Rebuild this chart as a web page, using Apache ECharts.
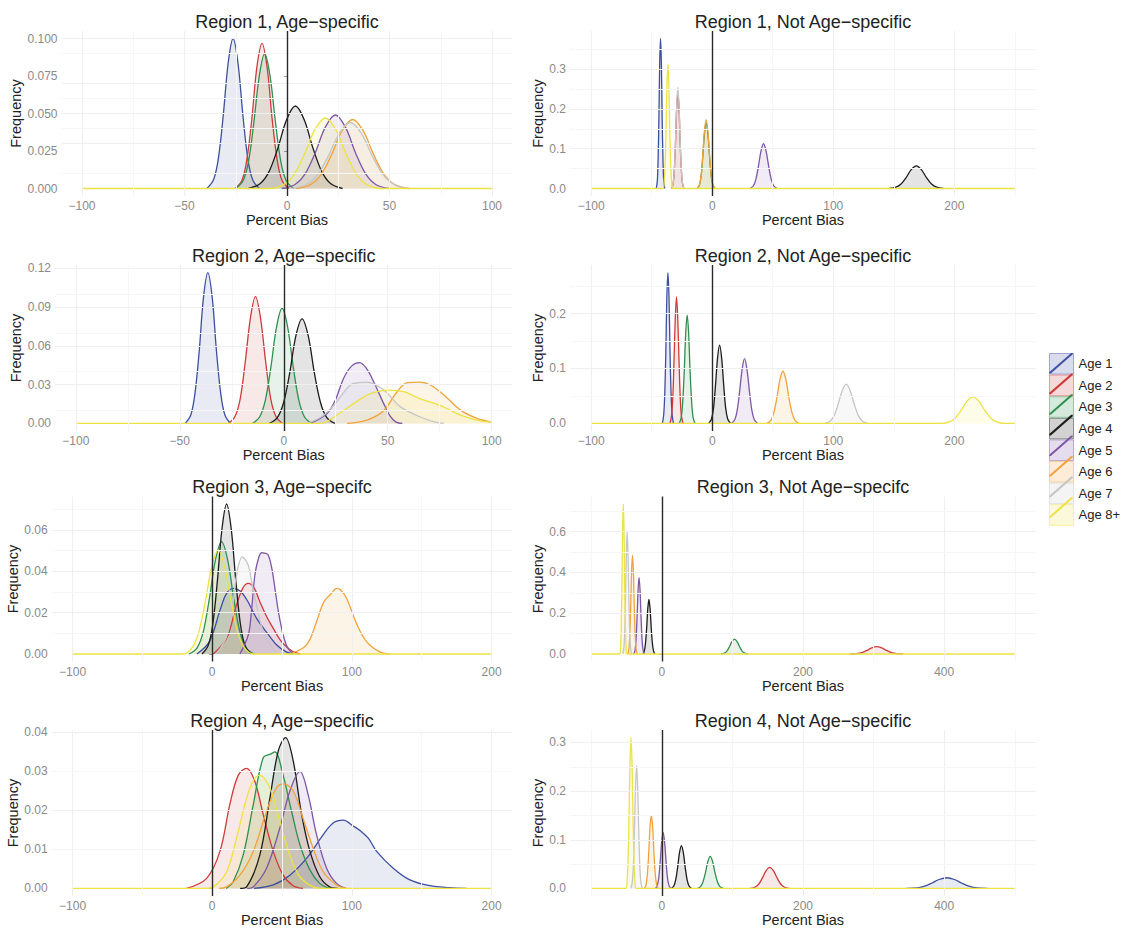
<!DOCTYPE html>
<html>
<head>
<meta charset="utf-8">
<script src="https://cdn.jsdelivr.net/npm/echarts@6/dist/echarts.min.js"></script>
<style>html,body{margin:0;padding:0;background:#fff}#c{width:1125px;height:928px}</style>
</head>
<body>
<div id="c"></div>
<script>
// ---------------- data ----------------
const ages = ['Age 1', 'Age 2', 'Age 3', 'Age 4', 'Age 5', 'Age 6', 'Age 7', 'Age 8+'];
const ageColors = ['#3d4f9f', '#cf3a3a', '#2f8f4e', '#1c1c1c', '#7d56a6', '#f2a23c', '#c6c6c6', '#ece244'];

const panelTitles = [
  'Region 1, Age\u2212specific', 'Region 1, Not Age\u2212specific',
  'Region 2, Age\u2212specific', 'Region 2, Not Age\u2212specific',
  'Region 3, Age\u2212specifc', 'Region 3, Not Age\u2212specifc',
  'Region 4, Age\u2212specific', 'Region 4, Not Age\u2212specific'
];
const xRanges = [[-100, 100], [-100, 250], [-100, 100], [-100, 250], [-100, 200], [-100, 500], [-100, 200], [-100, 500]];
const xTickValues = [
  [-100, -50, 0, 50, 100], [-100, 0, 100, 200],
  [-100, -50, 0, 50, 100], [-100, 0, 100, 200],
  [-100, 0, 100, 200], [0, 200, 400],
  [-100, 0, 100, 200], [0, 200, 400]
];
const yTickValues = [
  [0, 0.025, 0.05, 0.075, 0.1], [0, 0.1, 0.2, 0.3],
  [0, 0.03, 0.06, 0.09, 0.12], [0, 0.1, 0.2],
  [0, 0.02, 0.04, 0.06], [0, 0.2, 0.4, 0.6],
  [0, 0.01, 0.02, 0.03, 0.04], [0, 0.1, 0.2, 0.3]
];
const yDecimals = [3, 1, 2, 1, 2, 1, 2, 1];

// Region 1, Age-specific  (one list of [percent bias, frequency] per age)
const r1AgeSpecific = [
  [[-39.1,0],[-35.9,.0056],[-33.5,.0198],[-31.1,.0487],[-28.7,.0835],[-26.3,.100],[-23.9,.0835],[-21.5,.0487],[-19.1,.0198],[-16.7,.0056],[-13.5,0]],
  [[-25.3,0],[-22.0,.0054],[-19.6,.0191],[-17.1,.0471],[-14.7,.0807],[-12.2,.0967],[-9.7,.0807],[-7.3,.0471],[-4.8,.0191],[-2.4,.0054],[0.9,0]],
  [[-25.0,0],[-21.5,.0050],[-18.8,.0178],[-16.2,.0438],[-13.5,.0752],[-10.9,.090],[-8.3,.0752],[-5.6,.0438],[-3.0,.0178],[-0.3,.0050],[3.2,0]],
  [[-18.9,0],[-13.2,.0031],[-8.9,.0109],[-4.5,.0268],[-0.2,.0459],[4.1,.055],[8.4,.0459],[12.7,.0268],[17.1,.0109],[21.4,.0031],[27.1,0]],
  [[-2.6,0],[3.9,.0027],[8.8,.0097],[13.8,.0239],[18.7,.0409],[23.6,.049],[28.5,.0409],[33.4,.0239],[38.4,.0097],[43.3,.0027],[49.8,0]],
  [[4.5,0],[11.4,.0026],[16.5,.0091],[21.7,.0224],[26.8,.0384],[32.0,.046],[37.2,.0384],[42.3,.0224],[47.5,.0091],[52.6,.0026],[59.5,0]],
  [[2.1,0],[9.3,.0025],[14.7,.0087],[20.1,.0214],[25.5,.0367],[30.9,.044],[36.3,.0367],[41.7,.0214],[47.1,.0087],[52.5,.0025],[59.7,0]],
  [[-8.5,0],[-1.7,.0026],[3.4,.0093],[8.5,.0229],[13.6,.0392],[18.7,.047],[23.8,.0392],[28.9,.0229],[34.0,.0093],[39.1,.0026],[45.9,0]]
];
// Region 1, Not Age-specific
const r1NotAgeSpecific = [
  [[-46.2,0],[-45.3,.0211],[-44.7,.0746],[-44.0,.1836],[-43.4,.3148],[-42.7,.377],[-42.0,.3148],[-41.4,.1836],[-40.7,.0746],[-40.1,.0211],[-39.2,0]],
  [[-33.5,0],[-32.2,.0134],[-31.3,.0475],[-30.3,.1169],[-29.4,.2004],[-28.4,.24],[-27.4,.2004],[-26.5,.1169],[-25.5,.0475],[-24.6,.0134],[-23.3,0]],
  [[-12.4,0],[-10.5,.0092],[-9.1,.0327],[-7.8,.0804],[-6.4,.1378],[-5.0,.165],[-3.6,.1378],[-2.2,.0804],[-0.9,.0327],[0.5,.0092],[2.4,0]],
  [[146.2,0],[151.8,.0032],[156.0,.0112],[160.2,.0276],[164.4,.0473],[168.6,.0567],[172.8,.0473],[177.0,.0276],[181.2,.0112],[185.4,.0032],[191.0,0]],
  [[31.0,0],[33.9,.0063],[36.0,.0223],[38.1,.0548],[40.3,.0939],[42.4,.1125],[44.5,.0939],[46.7,.0548],[48.8,.0223],[50.9,.0063],[53.8,0]],
  [[-12.4,0],[-10.5,.0097],[-9.1,.0343],[-7.8,.0843],[-6.4,.1445],[-5.0,.173],[-3.6,.1445],[-2.2,.0843],[-0.9,.0343],[0.5,.0097],[2.4,0]],
  [[-33.4,0],[-32.2,.0142],[-31.2,.0503],[-30.3,.1237],[-29.3,.2121],[-28.4,.254],[-27.5,.2121],[-26.5,.1237],[-25.6,.0503],[-24.6,.0142],[-23.4,0]],
  [[-40.7,0],[-39.7,.0175],[-38.9,.0619],[-38.1,.1522],[-37.4,.2609],[-36.6,.3125],[-35.8,.2609],[-35.1,.1522],[-34.3,.0619],[-33.5,.0175],[-32.5,0]]
];
// Region 2, Age-specific
const r2AgeSpecific = [
  [[-47.4,0],[-44.7,.0065],[-42.7,.0231],[-40.6,.0568],[-38.6,.0974],[-36.5,.1166],[-34.4,.0974],[-32.4,.0568],[-30.3,.0231],[-28.3,.0065],[-25.6,0]],
  [[-26.6,0],[-23.4,.0055],[-20.9,.0194],[-18.5,.0477],[-16.0,.0818],[-13.6,.098],[-11.2,.0818],[-8.7,.0477],[-6.3,.0194],[-3.8,.0055],[-0.6,0]],
  [[-15.1,0],[-11.6,.0050],[-8.9,.0176],[-6.2,.0433],[-3.5,.0743],[-0.8,.089],[1.9,.0743],[4.6,.0433],[7.3,.0176],[10.0,.0050],[13.5,0]],
  [[-7.0,0],[-3.1,.0045],[-0.1,.0160],[2.9,.0393],[5.8,.0675],[8.8,.0808],[11.8,.0675],[14.7,.0393],[17.7,.0160],[20.7,.0045],[24.6,0]],
  [[12.8,0],[20.8,.0077],[24.8,.018],[28.8,.035],[32.7,.0445],[36.5,.047],[40,.042],[43.3,.032],[48,.0155],[51,.006],[54,.001],[57,0]],
  [[30.4,0],[40,.0026],[48,.0098],[54.5,.0245],[59.3,.0315],[65.7,.032],[70.5,.0297],[77,.022],[85,.0103],[93,.0039],[100,.001]],
  [[11,0],[18,.005],[24,.014],[32,.0297],[36,.0315],[40,.032],[48,.026],[56,.013],[65.7,.005],[72,.0015],[77,0]],
  [[17.6,0],[25.6,.0065],[33.7,.0155],[41.7,.023],[50.5,.0258],[57.7,.0245],[65.7,.019],[75.3,.014],[85,.0065],[94.6,.002],[100,.001]]
];
// Region 2, Not Age-specific
const r2NotAgeSpecific = [
  [[-41.2,0],[-40.1,.0154],[-39.2,.0544],[-38.3,.1337],[-37.5,.2292],[-36.6,.2745],[-35.7,.2292],[-34.9,.1337],[-34.0,.0544],[-33.1,.0154],[-32.0,0]],
  [[-35.0,0],[-33.7,.0129],[-32.6,.0455],[-31.6,.1120],[-30.5,.1921],[-29.5,.230],[-28.5,.1921],[-27.4,.1120],[-26.4,.0455],[-25.4,.0129],[-24.0,0]],
  [[-27.2,0],[-25.6,.0110],[-24.4,.0390],[-23.1,.0959],[-21.9,.1645],[-20.7,.197],[-19.5,.1645],[-18.3,.0959],[-17.0,.0390],[-15.8,.0110],[-14.2,0]],
  [[-2.9,0],[-0.6,.0080],[1.1,.0282],[2.7,.0693],[4.4,.1189],[6.1,.1424],[7.8,.1189],[9.5,.0693],[11.1,.0282],[12.8,.0080],[15.1,0]],
  [[15.9,0],[18.6,.0066],[20.6,.0234],[22.6,.0575],[24.7,.0985],[26.7,.118],[28.7,.0985],[30.8,.0575],[32.8,.0234],[34.8,.0066],[37.5,0]],
  [[45.0,0],[48.3,.0053],[50.8,.0188],[53.4,.0463],[55.9,.0793],[58.4,.095],[60.9,.0793],[63.4,.0463],[66.0,.0188],[68.5,.0053],[71.8,0]],
  [[92.8,0],[97.3,.0040],[100.7,.0142],[104.0,.0348],[107.4,.0597],[110.7,.0715],[114.0,.0597],[117.4,.0348],[120.7,.0142],[124.1,.0040],[128.6,0]],
  [[189.2,0],[195.7,.0027],[200.6,.0096],[205.6,.0236],[210.5,.0405],[215.4,.0485],[220.3,.0405],[225.2,.0236],[230.2,.0096],[235.1,.0027],[241.6,0]]
];
// Region 3, Age-specifc
const r3AgeSpecific = [
  [[-11,0],[-2,.006],[5.5,.021],[10,.029],[15,.0318],[20,.0305],[25,.026],[32,.017],[39,.0105],[46,.0045],[53,.001],[58,0]],
  [[0.7,0],[10.3,.0076],[17.4,.0237],[22,.032],[25.8,.0342],[30,.032],[34.1,.0253],[39,.018],[43.7,.0124],[48.5,.007],[53.2,.0035],[58,.001],[63,0]],
  [[-16.7,0],[-10.8,.0030],[-6.4,.0108],[-2.1,.0265],[2.3,.0454],[6.7,.0544],[11.1,.0454],[15.5,.0265],[19.8,.0108],[24.2,.0030],[30.1,0]],
  [[-7.3,0],[-2.9,.0041],[0.4,.0144],[3.7,.0354],[7.0,.0606],[10.3,.0726],[13.6,.0606],[16.9,.0354],[20.2,.0144],[23.5,.0041],[27.9,0]],
  [[19.8,0],[25.8,.0092],[28,.02],[30.5,.038],[33,.046],[35.3,.049],[37.5,.0488],[40,.048],[42.5,.042],[44.9,.0318],[47.5,.02],[50.8,.0092],[54,.003],[58,0]],
  [[55.6,0],[67.5,.0044],[74.7,.0156],[79,.024],[81.9,.027],[85,.029],[89,.0318],[92,.031],[96.2,.027],[103.3,.0148],[110.5,.006],[120,.001],[127,0]],
  [[3,0],[10,.008],[14,.02],[17.4,.038],[21.5,.047],[25.8,.043],[28.5,.034],[31.7,.024],[35,.014],[38.9,.0076],[46,0]],
  [[-21.0,0],[-14.7,.0028],[-9.9,.0100],[-5.2,.0245],[-0.4,.0420],[4.3,.0503],[9.0,.0420],[13.8,.0245],[18.5,.0100],[23.3,.0028],[29.6,0]]
];
// Region 3, Not Age-specifc (Age 1 not visible)
const r3NotAgeSpecific = [
  [],
  [[267.0,0],[276.3,.0020],[283.3,.0071],[290.4,.0174],[297.4,.0299],[304.4,.0358],[311.4,.0299],[318.4,.0174],[325.5,.0071],[332.5,.0020],[341.8,0]],
  [[83.8,0],[88.6,.0041],[92.2,.0145],[95.8,.0356],[99.4,.0610],[103,.073],[106.6,.0610],[110.2,.0356],[113.8,.0145],[117.4,.0041],[122.2,0]],
  [[-26.8,0],[-24.7,.0150],[-23.1,.0529],[-21.4,.1300],[-19.8,.2229],[-18.2,.267],[-16.6,.2229],[-15.0,.1300],[-13.3,.0529],[-11.7,.0150],[-9.6,0]],
  [[-39.7,0],[-37.8,.0209],[-36.4,.0741],[-35.0,.1821],[-33.6,.3123],[-32.2,.374],[-30.8,.3123],[-29.4,.1821],[-28.0,.0741],[-26.6,.0209],[-24.7,0]],
  [[-48.2,0],[-46.5,.0270],[-45.3,.0956],[-44.0,.2352],[-42.8,.4033],[-41.5,.483],[-40.2,.4033],[-39.0,.2352],[-37.7,.0956],[-36.5,.0270],[-34.8,0]],
  [[-55.1,0],[-53.6,.0336],[-52.4,.1188],[-51.3,.2922],[-50.1,.5010],[-49.0,.60],[-47.9,.5010],[-46.7,.2922],[-45.6,.1188],[-44.4,.0336],[-42.9,0]],
  [[-59.6,0],[-58.3,.0412],[-57.4,.1455],[-56.4,.3579],[-55.5,.6137],[-54.5,.735],[-53.5,.6137],[-52.6,.3579],[-51.6,.1455],[-50.7,.0412],[-49.4,0]]
];
// Region 4, Age-specific (Age 7 not visible)
const r4AgeSpecific = [
  [[30,0],[43.7,.0009],[55.6,.0034],[67.5,.0077],[79.5,.0138],[86.6,.0168],[93.8,.0175],[101,.016],[106,.0148],[112,.0128],[117.7,.0095],[129.6,.0052],[141.5,.0022],[155.8,.0007],[170,.0002],[182,0]],
  [[-18.4,0],[-4,.0026],[5.5,.0095],[12.6,.0215],[18.6,.029],[24.6,.0308],[30.5,.0275],[36.5,.019],[43.7,.0095],[50.8,.0034],[58,.0007],[65,0]],
  [[10,0],[15,.0017],[22.2,.0086],[29.4,.0215],[36.5,.0335],[42,.0345],[44.9,.035],[50.8,.029],[56.8,.0198],[62.8,.0112],[70,.0047],[77,.0013],[84,0]],
  [[20,0],[24.6,.0004],[34.1,.0086],[41.3,.0232],[47.3,.0353],[52.5,.0387],[58,.0327],[64,.019],[70,.0095],[77,.003],[84,.0004],[90,0]],
  [[25,0],[29.4,.0004],[38.9,.0052],[48.4,.0155],[55.6,.025],[62.8,.030],[68.7,.024],[74.7,.0138],[81.9,.0052],[89,.0013],[96,0]],
  [[5,0],[10.3,.0004],[19.8,.0034],[29.4,.0095],[38.9,.0198],[46,.0258],[51.3,.0268],[58,.025],[65,.018],[72.3,.0103],[79.5,.0043],[89,.0009],[96,0]],
  [],
  [[-5,0],[0.7,.0004],[10.3,.0043],[17.4,.0129],[24.6,.0232],[30,.028],[34.1,.029],[41.3,.0258],[48.4,.0172],[55.6,.0086],[62.8,.003],[72.3,.0004],[80,0]]
];
// Region 4, Not Age-specific
const r4NotAgeSpecific = [
  [[346.0,0],[360.4,.0012],[371.2,.0044],[382.0,.0107],[392.8,.0184],[403.6,.022],[414.4,.0184],[425.2,.0107],[436.0,.0044],[446.8,.0012],[461.2,0]],
  [[124.7,0],[131.8,.0024],[137.1,.0086],[142.3,.0211],[147.6,.0362],[152.9,.0434],[158.2,.0362],[163.5,.0211],[168.7,.0086],[174.0,.0024],[181.1,0]],
  [[50.4,0],[54.9,.0037],[58.3,.0131],[61.8,.0321],[65.2,.0551],[68.6,.066],[72.0,.0551],[75.4,.0321],[78.9,.0131],[82.3,.0037],[86.8,0]],
  [[13.4,0],[17.0,.0049],[19.7,.0174],[22.4,.0429],[25.1,.0735],[27.8,.088],[30.5,.0735],[33.2,.0429],[35.9,.0174],[38.6,.0049],[42.2,0]],
  [[-9.0,0],[-6.3,.0064],[-4.2,.0228],[-2.2,.0560],[-0.1,.0960],[1.9,.115],[3.9,.0960],[6.0,.0560],[8.0,.0228],[10.1,.0064],[12.8,0]],
  [[-24.7,0],[-22.2,.0084],[-20.4,.0297],[-18.5,.0731],[-16.7,.1253],[-14.8,.150],[-12.9,.1253],[-11.1,.0731],[-9.2,.0297],[-7.4,.0084],[-4.9,0]],
  [[-43.7,0],[-41.7,.0141],[-40.2,.0499],[-38.7,.1227],[-37.2,.2104],[-35.7,.252],[-34.2,.2104],[-32.7,.1227],[-31.2,.0499],[-29.7,.0141],[-27.7,0]],
  [[-51.0,0],[-49.1,.0174],[-47.7,.0614],[-46.4,.1510],[-45.0,.2589],[-43.6,.310],[-42.2,.2589],[-40.8,.1510],[-39.5,.0614],[-38.1,.0174],[-36.2,0]]
];

const panelData = [r1AgeSpecific, r1NotAgeSpecific, r2AgeSpecific, r2NotAgeSpecific,
                   r3AgeSpecific, r3NotAgeSpecific, r4AgeSpecific, r4NotAgeSpecific];

// ---------------- layout ----------------
// [left, right, top, bottom] of each panel in pixels
const panelBoxes = [
  [61.5, 512.5, 31, 196], [570, 1036, 31, 196],
  [55, 512.5, 265, 431], [570, 1036, 265, 431],
  [51.6, 512.5, 496.5, 661.5], [570, 1036, 496.5, 661.5],
  [51.6, 512.5, 730, 896], [570, 1036, 730, 896]
];
const yNameGaps = [36, 23, 30, 23, 28.6, 23, 28.6, 23];

const FONT = "'Liberation Sans', Arial, Helvetica, sans-serif";
function hexA(hex, a) {
  const n = parseInt(hex.slice(1), 16);
  return 'rgba(' + ((n >> 16) & 255) + ',' + ((n >> 8) & 255) + ',' + (n & 255) + ',' + a + ')';
}
function fmtX(v) { return v < 0 ? '\u2212' + Math.abs(v) : String(v); }
function minorVals(ticks, lo, hi) {
  const step = ticks[1] - ticks[0];
  const out = [];
  const all = [ticks[0] - step / 2].concat(ticks.map(t => t + step / 2));
  all.forEach(v => { if (v > lo && v < hi) out.push(v); });
  return out;
}

const chart = echarts.init(document.getElementById('c'), null, { renderer: 'svg', width: 1125, height: 928 });
const grids = [], xAxes = [], yAxes = [], series = [], graphics = [];
const LAST = ages.length - 1;

panelBoxes.forEach((b, p) => {
  const [L, R, T, B] = b;
  grids.push({ left: L, top: T, width: R - L, height: B - T, containLabel: false, outerBoundsMode: 'none' });
  const [lo, hi] = xRanges[p];
  const span = hi - lo;
  const xmin = lo - 0.05 * span, xmax = hi + 0.05 * span;
  const M = Math.max.apply(null, panelData[p].flat().map(pt => pt[1]));
  const ymin = -0.05 * M, ymax = 1.05 * M;
  const dec = yDecimals[p];

  xAxes.push({
    gridIndex: p, type: 'value', min: xmin, max: xmax,
    name: 'Percent Bias', nameLocation: 'middle', nameGap: 15,
    nameTextStyle: { fontSize: 14.5, color: '#222', fontFamily: FONT },
    axisLine: { show: false }, splitLine: { show: false },
    axisTick: { show: true, customValues: xTickValues[p], length: 3, lineStyle: { color: '#9a9a9a' } },
    axisLabel: { customValues: xTickValues[p], formatter: fmtX, color: '#8a8a8a', fontSize: 12, margin: 4, fontFamily: FONT }
  });
  yAxes.push({
    gridIndex: p, type: 'value', min: ymin, max: ymax,
    name: 'Frequency', nameLocation: 'middle', nameGap: yNameGaps[p],
    nameTextStyle: { fontSize: 14.5, color: '#222', fontFamily: FONT },
    axisLine: { show: false }, splitLine: { show: false },
    axisTick: { show: true, customValues: yTickValues[p], length: 3, lineStyle: { color: '#9a9a9a' } },
    axisLabel: { customValues: yTickValues[p], formatter: v => v.toFixed(dec), color: '#8a8a8a', fontSize: 12, margin: 4, fontFamily: FONT }
  });

  // faint background grid lines (the zero line is covered by the curves' baseline)
  const gl = [];
  xTickValues[p].forEach(v => gl.push({ xAxis: v, lineStyle: { color: '#efefef', width: 1, type: 'solid' } }));
  minorVals(xTickValues[p], xmin, xmax).forEach(v => gl.push({ xAxis: v, lineStyle: { color: '#f6f6f6', width: 1, type: 'solid' } }));
  yTickValues[p].filter(v => v !== 0).forEach(v => gl.push({ yAxis: v, lineStyle: { color: '#efefef', width: 1, type: 'solid' } }));
  minorVals(yTickValues[p], ymin, ymax).forEach(v => gl.push({ yAxis: v, lineStyle: { color: '#f6f6f6', width: 1, type: 'solid' } }));
  series.push({
    type: 'line', name: '_grid' + p, xAxisIndex: p, yAxisIndex: p, data: [], z: 0, silent: true,
    markLine: { silent: true, symbol: ['none', 'none'], label: { show: false }, animation: false, data: gl }
  });

  // density curves (the last age group's zero tail spans the whole range, drawn on top)
  panelData[p].forEach((pts, a) => {
    if (!pts.length) return;
    const d = pts.slice();
    if (a === LAST) {
      if (d[0][0] > lo) d.unshift([lo, 0]);
      if (d[d.length - 1][0] < hi) d.push([hi, 0]);
    }
    series.push({
      type: 'line', name: ages[a], xAxisIndex: p, yAxisIndex: p, data: d,
      smooth: 0.35, symbol: 'none', z: 2, animation: false,
      lineStyle: { color: ageColors[a], width: 1.3 },
      itemStyle: { color: ageColors[a] },
      areaStyle: { color: hexA(ageColors[a], 0.17) },
      emphasis: { disabled: true }
    });
  });

  // vertical reference line at zero bias
  series.push({
    type: 'line', name: '_zero' + p, xAxisIndex: p, yAxisIndex: p, data: [], z: 5, silent: true,
    markLine: { silent: true, symbol: ['none', 'none'], label: { show: false }, animation: false,
      data: [{ xAxis: 0, lineStyle: { color: '#2a2a2a', width: 1.4, type: 'solid' } }] }
  });

  graphics.push({
    type: 'text', x: (L + R) / 2, y: T - 9.5, silent: true,
    style: { text: panelTitles[p], align: 'center', verticalAlign: 'middle', textAlign: 'center', textVerticalAlign: 'middle',
      fontSize: 18, fontFamily: FONT, fill: '#222' }
  });
});

const legendCommon = { orient: 'vertical', left: 1049, top: 353, itemWidth: 24, itemHeight: 20.6, itemGap: 0, padding: 0, selectedMode: false };
const option = {
  backgroundColor: '#ffffff',
  animation: false,
  grid: grids, xAxis: xAxes, yAxis: yAxes, series: series, graphic: graphics,
  legend: [
    Object.assign({}, legendCommon, {
      icon: 'rect',
      textStyle: { fontSize: 13, color: '#222', fontFamily: FONT },
      data: ages.map((n, i) => ({ name: n, itemStyle: { color: hexA(ageColors[i], 0.2), borderColor: hexA(ageColors[i], 0.45), borderWidth: 1 } }))
    }),
    Object.assign({}, legendCommon, {
      formatter: () => '',
      textStyle: { fontSize: 13, color: 'rgba(0,0,0,0)' },
      data: ages.map((n, i) => ({ name: n, icon: 'path://M0,21L1.6,21L24,1.4L24,0L22.4,0L0,19.6Z', itemStyle: { color: ageColors[i], borderWidth: 0 } }))
    })
  ]
};
chart.setOption(option);
</script>
</body>
</html>
